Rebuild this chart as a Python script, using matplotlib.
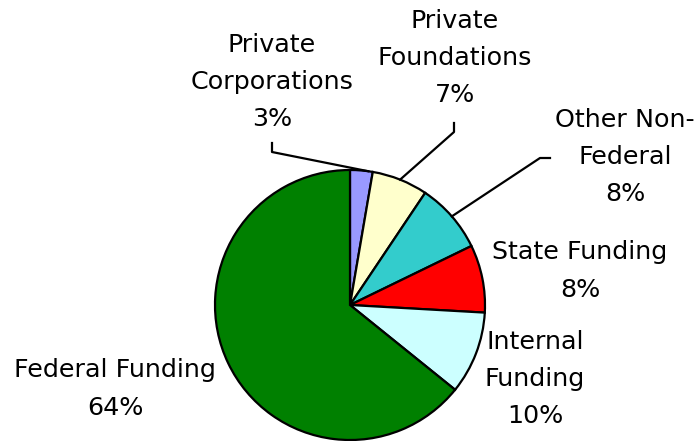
import numpy as np
import matplotlib
matplotlib.use('Agg')
import matplotlib.pyplot as plt

# funding sources (share of total, %)
sources = ['Private\nCorporations', 'Private\nFoundations', 'Other Non-\nFederal',
           'State Funding', 'Internal\nFunding', 'Federal Funding']
shares = [2.7, 6.7, 8.4, 8.1, 9.9, 64.2]
colors = ['#9999FF', '#FFFFCC', '#33CCCC', '#FF0000', '#CCFFFF', '#008000']

W, H = 699, 441
cx, cy, R = 350, 305, 135   # pie centre and radius in pixels

def to_data(px, py):
    return (px - cx) / R, (cy - py) / R

fig = plt.figure(figsize=(W / 100, H / 100), dpi=100)
ax = fig.add_axes([0, 0, 1, 1])
wedges, _ = ax.pie(shares, colors=colors, startangle=90, counterclock=False,
                   radius=1, wedgeprops=dict(edgecolor='black', linewidth=1.6))
ax.set_xlim(-cx / R, (W - cx) / R)
ax.set_ylim((cy - H) / R, cy / R)
ax.axis('off')

# label text centres (pixels)
label_pos = [(272, 82), (455, 58), (625, 157), (580, 271), (535, 379), (115, 389)]
total = sum(shares)
for name, val, (px, py) in zip(sources, shares, label_pos):
    x, y = to_data(px, py)
    ax.text(x, y, '%s\n%d%%' % (name, round(val / total * 100)), ha='center', va='center',
            fontsize=18.3, linespacing=1.7, family='DejaVu Sans')

# leader lines: elbow points in pixels, end on the rim of the wedge
# (frac = where along the wedge the line touches, 0 = start edge)
elbows = {0: ([(272, 143), (272, 152)], 0.2),
          1: ([(454, 123), (454, 132)], 0.5),
          2: ([(550, 158), (540, 158)], 0.5)}
for i, (pts, frac) in elbows.items():
    w = wedges[i]
    ang = np.deg2rad(w.theta2 + (w.theta1 - w.theta2) * (1 - frac))
    xs = [to_data(*p)[0] for p in pts] + [np.cos(ang)]
    ys = [to_data(*p)[1] for p in pts] + [np.sin(ang)]
    ax.plot(xs, ys, color='black', linewidth=1.6, clip_on=False)

fig.savefig('out.png', dpi=100)
